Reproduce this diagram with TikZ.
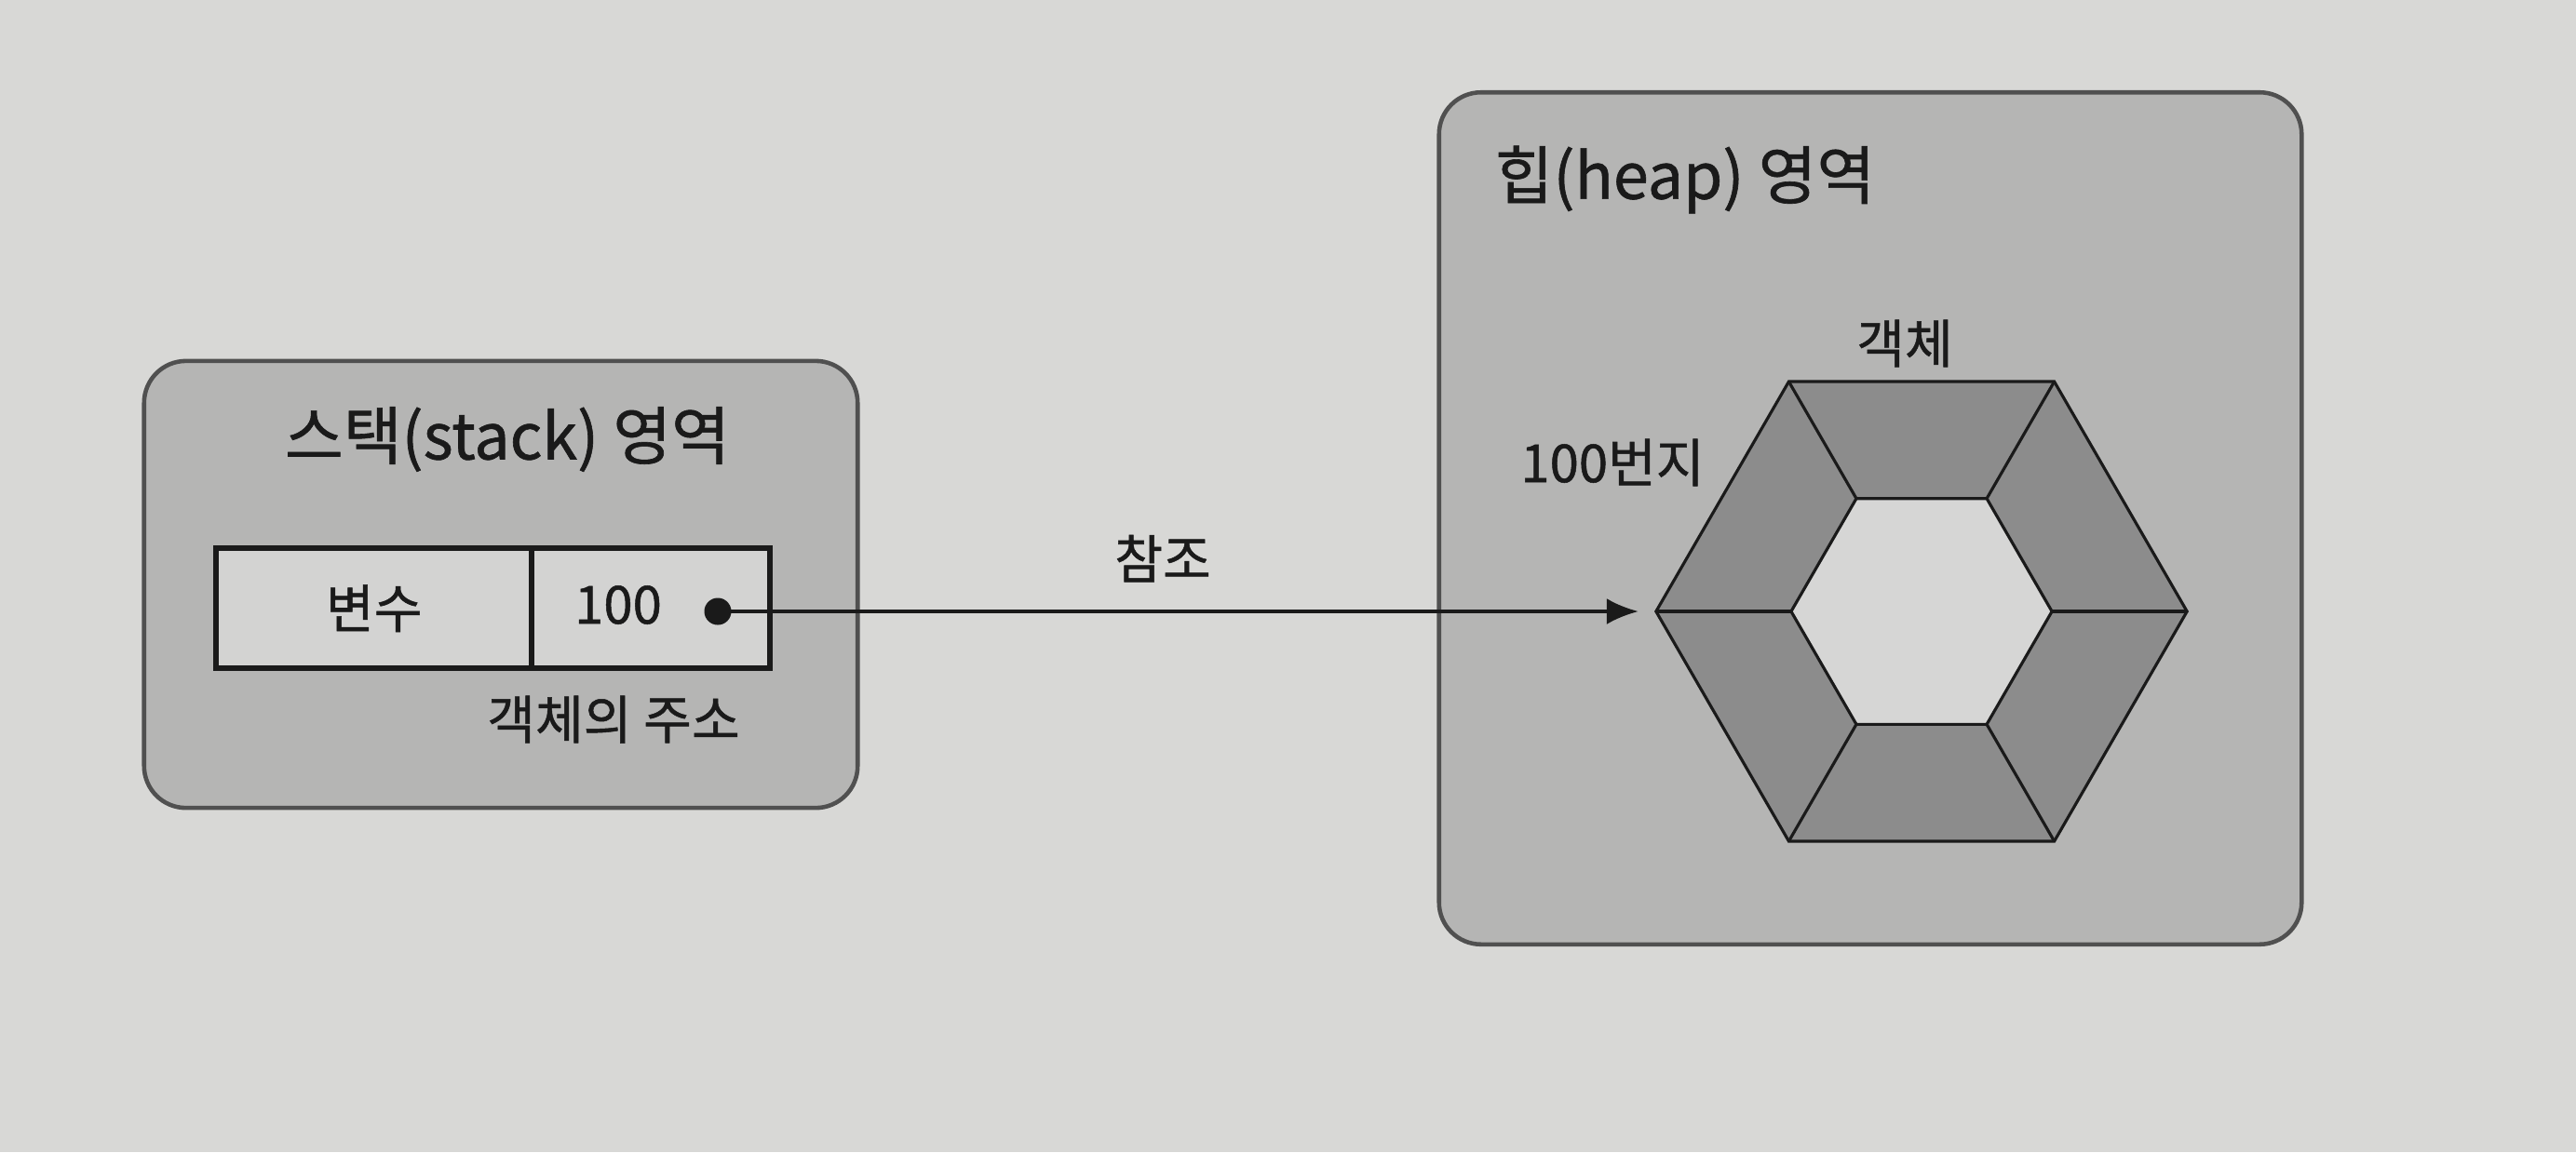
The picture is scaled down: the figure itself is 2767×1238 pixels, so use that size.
\documentclass[tikz,border=0pt]{standalone}
\usepackage{fontspec}
\setmainfont{Noto Sans CJK KR}[FakeBold=0.9]
\usetikzlibrary{arrows.meta,calc}
\definecolor{paper}{HTML}{D8D8D6}
\definecolor{boxfill}{HTML}{B5B5B4}
\definecolor{boxline}{HTML}{505050}
\definecolor{cellfill}{HTML}{D3D3D2}
\definecolor{ringfill}{HTML}{8C8C8C}
\definecolor{holefill}{HTML}{D6D6D5}
\definecolor{ink}{HTML}{1A1A1A}
\begin{document}
\begin{tikzpicture}[x=0.01cm,y=-0.01cm,
  area/.style={draw=boxline,fill=boxfill,line width=1.3pt,rounded corners=0.45cm,inner sep=0pt},
  cell/.style={draw=ink,fill=cellfill,line width=1.8pt,inner sep=0pt,minimum height=1.29cm},
  title/.style={text=ink,font=\fontsize{19.4pt}{23pt}\selectfont,inner sep=0pt},
  label/.style={text=ink,font=\fontsize{16pt}{19pt}\selectfont,inner sep=0pt},
  hexline/.style={draw=ink,line width=0.9pt,line join=miter},
  ref/.style={draw=ink,line width=1.1pt,-{Latex[length=0.34cm,width=0.28cm]}}]
\fill[paper] (0,0) rectangle (2767,1238);
\useasboundingbox (0,0) rectangle (2767,1238);
% areas
\node[area,minimum width=7.66cm,minimum height=4.80cm] (stack) at (538,628) {};
\node[area,minimum width=9.26cm,minimum height=9.15cm] (heap) at (2009,557) {};
% titles
\node[title] (stacktitle) at (545,472) {스택(stack) 영역};
\node[title,anchor=west] (heaptitle) at (1605,193) {힙(heap) 영역};
% table
\node[cell,minimum width=3.39cm,anchor=north west] (var) at (229,586) {};
\node[cell,minimum width=2.56cm,anchor=north west] (val) at (568,586) {};
\node[label] (varname) at (var.center) {변수};
\node[label] (valnum) at (664,650) {100};
\node[circle,fill=ink,inner sep=0pt,minimum size=0.29cm] (dot) at (771,657) {};
\node[label] (addr) at (659,773) {객체의 주소};
% hexagon object
\coordinate (hc) at (2064,657);
\foreach \a [count=\i] in {0,60,120,180,240,300}{
  \coordinate (o\i) at ($(hc)+(\a:2.85cm)$);
  \coordinate (n\i) at ($(hc)+(\a:1.40cm)$);
}
\fill[ringfill] (o1)--(o2)--(o3)--(o4)--(o5)--(o6)--cycle;
\fill[holefill] (n1)--(n2)--(n3)--(n4)--(n5)--(n6)--cycle;
\draw[hexline] (o1)--(o2)--(o3)--(o4)--(o5)--(o6)--cycle;
\draw[hexline] (n1)--(n2)--(n3)--(n4)--(n5)--(n6)--cycle;
\foreach \i in {1,...,6}{\draw[hexline] (n\i)--(o\i);}
\node[label] (obj) at (2046,369) {객체};
\node[label] (addr100) at (1732,497) {100번지};
% reference arrow
\coordinate (tip) at ($(o4)+(-0.19cm,0)$);
\draw[ref] (dot.center) -- (tip);
\node[label] (refl) at (1249,600) {참조};
\end{tikzpicture}
\end{document}
